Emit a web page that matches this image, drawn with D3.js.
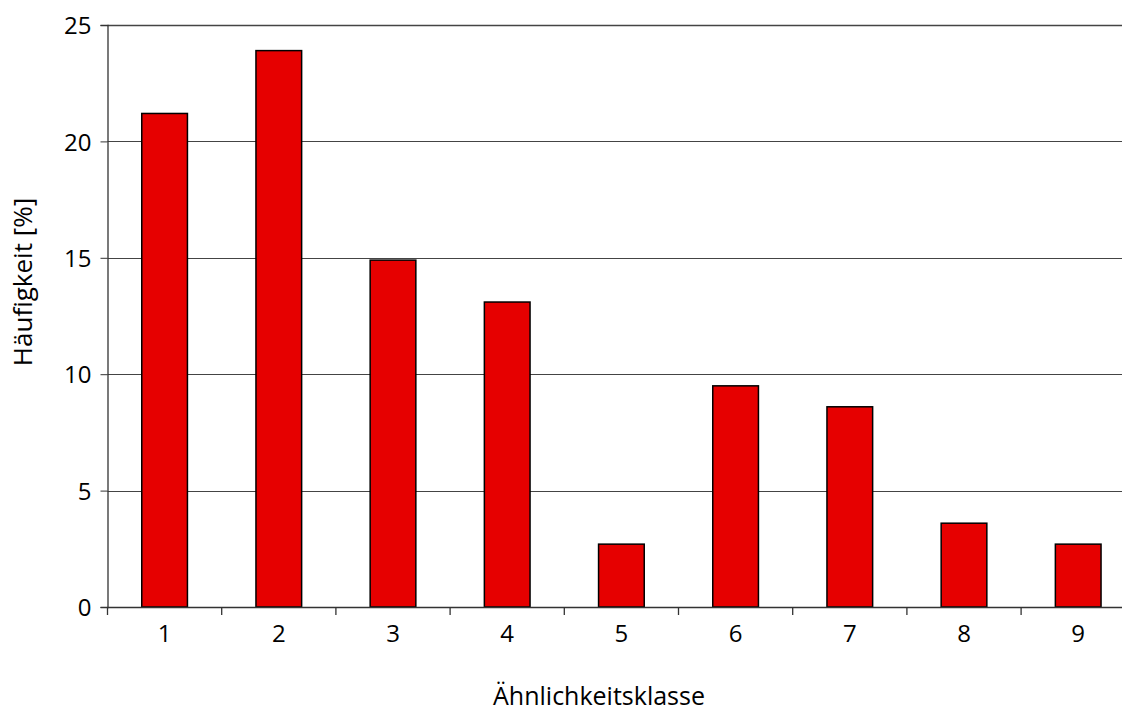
<!DOCTYPE html>
<html>
<head>
<meta charset="utf-8">
<script src="https://cdn.jsdelivr.net/npm/d3@7"></script>
<style>
  html, body { margin: 0; padding: 0; background: #fff; }
  svg { display: block; }
  text { font-family: "Open Sans", "DejaVu Sans", sans-serif; fill: #000; }
</style>
</head>
<body>
<svg id="chart" width="1122" height="711"></svg>
<script>
// Frequency per similarity class
const classes = ["1", "2", "3", "4", "5", "6", "7", "8", "9"];
const frequency = [21.2, 23.9, 14.9, 13.1, 2.7, 9.5, 8.6, 3.6, 2.7];
const yTicks = [0, 5, 10, 15, 20, 25];
const xTitle = "Ähnlichkeitsklasse";
const yTitle = "Häufigkeit [%]";

const svg = d3.select("#chart");
const margin = { left: 107.5, top: 25, bottom: 104 };
const plotBottom = 711 - margin.bottom;
const bandW = 114.2;

const x = d3.scaleBand()
  .domain(classes)
  .range([margin.left, margin.left + bandW * classes.length])
  .paddingInner(0.6)
  .paddingOuter(0.3);

const y = d3.scaleLinear().domain([0, 25]).range([plotBottom, margin.top]);

// horizontal gridlines
svg.append("g")
  .selectAll("line")
  .data(yTicks.slice(1))
  .join("line")
  .attr("x1", margin.left)
  .attr("x2", 1122)
  .attr("y1", d => Math.round(y(d)) + 0.5)
  .attr("y2", d => Math.round(y(d)) + 0.5)
  .attr("stroke", "#444")
  .attr("stroke-width", d => d === 25 ? 1.6 : 1);

// bars
svg.append("g")
  .selectAll("rect")
  .data(frequency)
  .join("rect")
  .attr("x", (d, i) => x(classes[i]))
  .attr("width", x.bandwidth())
  .attr("y", d => y(d))
  .attr("height", d => plotBottom - y(d))
  .attr("fill", "#e60000")
  .attr("stroke", "#000")
  .attr("stroke-width", 1.5);

// y axis
const yAxis = svg.append("g")
  .attr("transform", `translate(${margin.left},0)`)
  .call(d3.axisLeft(y).tickValues(yTicks).tickSize(7).tickPadding(9));
yAxis.select(".domain").attr("stroke", "#333").attr("stroke-width", 1.3);
yAxis.selectAll(".tick line").attr("stroke", "#333");
yAxis.selectAll("text").style("font-size", "24px").attr("dy", "0.36em");

// x axis: labels centred in each class, ticks at class boundaries
const xAxis = svg.append("g")
  .attr("transform", `translate(0,${plotBottom})`)
  .call(d3.axisBottom(x).tickSize(0).tickPadding(18));
xAxis.select(".domain").remove();
xAxis.selectAll("text").style("font-size", "24px");
svg.append("line")
  .attr("x1", margin.left).attr("x2", 1122)
  .attr("y1", plotBottom + 0.5).attr("y2", plotBottom + 0.5)
  .attr("stroke", "#333").attr("stroke-width", 1.3);
svg.append("g")
  .selectAll("line")
  .data(d3.range(classes.length + 1))
  .join("line")
  .attr("x1", i => x(classes[0]) - x.step() * x.paddingOuter() + i * x.step())
  .attr("x2", i => x(classes[0]) - x.step() * x.paddingOuter() + i * x.step())
  .attr("y1", plotBottom)
  .attr("y2", plotBottom + 8)
  .attr("stroke", "#333")
  .attr("stroke-width", 1.3);

// axis titles
svg.append("text")
  .attr("x", 599)
  .attr("y", 705)
  .attr("text-anchor", "middle")
  .style("font-size", "25px")
  .text(xTitle);

svg.append("text")
  .attr("transform", "translate(32,282) rotate(-90)")
  .attr("text-anchor", "middle")
  .style("font-size", "26px")
  .text(yTitle);
</script>
</body>
</html>
